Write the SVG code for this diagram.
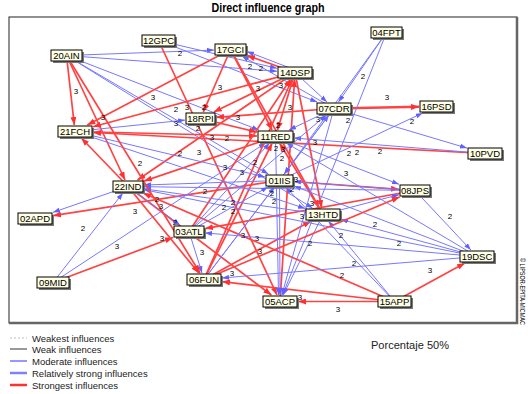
<svg xmlns="http://www.w3.org/2000/svg" width="528" height="394" viewBox="0 0 528 394">
<style>
text{font-family:"Liberation Sans",Arial,sans-serif}
.r{stroke:#ff4343;stroke-width:1.7;fill:none;marker-end:url(#ar)}
.b{stroke:#7878ff;stroke-width:1;fill:none;marker-end:url(#ab)}
.sh{fill:#777}
.bx{fill:#ffffe6;stroke:#000;stroke-width:1}
.nt{font-size:9.5px;fill:#000;text-anchor:middle}
.lb{font-size:8px;fill:#000;text-anchor:middle}
.lg{font-size:9.5px;fill:#222}
</style>
<defs>
<marker id="ar" viewBox="0 0 8 6" markerWidth="8" markerHeight="6" refX="8" refY="3" orient="auto" markerUnits="userSpaceOnUse"><path d="M0,0 L8,3 L0,6 z" fill="#ff3030"/></marker>
<marker id="ab" viewBox="0 0 7 5" markerWidth="7" markerHeight="5" refX="7" refY="2.5" orient="auto" markerUnits="userSpaceOnUse"><path d="M0,0 L7,2.5 L0,5 z" fill="#6060ff"/></marker>
</defs>
<rect x="0" y="0" width="528" height="394" fill="#fff"/>
<text x="268" y="12" font-size="12" font-weight="bold" text-anchor="middle" textLength="113" lengthAdjust="spacingAndGlyphs" fill="#000">Direct influence graph</text>
<rect x="9" y="17" width="508" height="306" fill="#fff" stroke="#222" stroke-width="1"/>
<path d="M517,17 V323 H9" fill="none" stroke="#666" stroke-width="2.5"/>
<text transform="translate(520,258) rotate(90)" font-size="6.5" textLength="67" lengthAdjust="spacingAndGlyphs" fill="#000">© LIPSOR-EPITA-MICMAC</text>
<g id="connectors">
<line class="b" x1="66.5" y1="55.5" x2="214" y2="50.1"/>
<line class="b" x1="66.5" y1="55.5" x2="277" y2="71.2"/>
<line class="r" x1="66.5" y1="55.5" x2="74.3" y2="125"/>
<line class="r" x1="66.5" y1="55.5" x2="125" y2="180"/>
<line class="b" x1="66.5" y1="55.5" x2="258.8" y2="130"/>
<line class="b" x1="66.5" y1="55.5" x2="268.4" y2="174"/>
<line class="b" x1="66.5" y1="55.5" x2="312.5" y2="208"/>
<line class="b" x1="158.5" y1="40.5" x2="277" y2="68.3"/>
<line class="b" x1="158.5" y1="40.5" x2="317.2" y2="102"/>
<line class="r" x1="158.5" y1="40.5" x2="277" y2="295"/>
<line class="r" x1="295" y1="72.5" x2="247" y2="55.4"/>
<line class="b" x1="290" y1="68" x2="247" y2="51.5"/>
<line class="b" x1="334" y1="108.5" x2="241.9" y2="56"/>
<line class="r" x1="230.5" y1="49.5" x2="87.3" y2="125"/>
<line class="r" x1="230.5" y1="49.5" x2="203.3" y2="112"/>
<line class="r" x1="230.5" y1="49.5" x2="272.1" y2="130"/>
<line class="r" x1="230.5" y1="49.5" x2="319.4" y2="208"/>
<line class="r" x1="295" y1="72.5" x2="93" y2="126.7"/>
<line class="r" x1="295" y1="72.5" x2="213.8" y2="112"/>
<line class="r" x1="334" y1="108.5" x2="216" y2="117.3"/>
<line class="r" x1="200.5" y1="118.5" x2="257" y2="132.1"/>
<line class="r" x1="75" y1="131.5" x2="257" y2="136"/>
<line class="r" x1="485" y1="153.5" x2="93" y2="132.5"/>
<line class="r" x1="275.5" y1="136.5" x2="144" y2="181.1"/>
<line class="r" x1="295" y1="72.5" x2="137.5" y2="180"/>
<line class="r" x1="128" y1="186.5" x2="81.3" y2="138"/>
<line class="r" x1="334" y1="108.5" x2="419" y2="106.8" style="stroke-width:2.6"/>
<line class="b" x1="386.5" y1="32.5" x2="338.5" y2="102"/>
<line class="b" x1="386.5" y1="32.5" x2="284.2" y2="174"/>
<line class="b" x1="386.5" y1="32.5" x2="282.6" y2="295"/>
<line class="b" x1="334" y1="108.5" x2="467" y2="148.1"/>
<line class="b" x1="279.5" y1="180.5" x2="422.7" y2="113"/>
<line class="b" x1="485" y1="153.5" x2="294" y2="138"/>
<line class="b" x1="275.5" y1="136.5" x2="399" y2="184.3"/>
<line class="r" x1="279.5" y1="180.5" x2="399" y2="189.3"/>
<line class="r" x1="415" y1="190.5" x2="205" y2="228.6"/>
<line class="r" x1="279.5" y1="180.5" x2="53" y2="215.7"/>
<line class="b" x1="128" y1="186.5" x2="53" y2="212.3"/>
<line class="b" x1="53" y1="282.5" x2="122.9" y2="193"/>
<line class="b" x1="53" y1="282.5" x2="265.6" y2="143"/>
<line class="r" x1="53" y1="282.5" x2="173" y2="237.5"/>
<line class="r" x1="128" y1="186.5" x2="198.7" y2="273"/>
<line class="r" x1="128" y1="186.5" x2="271.4" y2="295"/>
<line class="r" x1="394.5" y1="301.5" x2="143" y2="193"/>
<line class="r" x1="394.5" y1="301.5" x2="298" y2="301.5"/>
<line class="r" x1="394.5" y1="301.5" x2="465" y2="263"/>
<line class="r" x1="394.5" y1="301.5" x2="222" y2="281.6"/>
<line class="r" x1="204" y1="279.5" x2="311" y2="221"/>
<line class="r" x1="204" y1="279.5" x2="292.1" y2="79"/>
<line class="r" x1="204" y1="279.5" x2="272.2" y2="143"/>
<line class="r" x1="189" y1="231.5" x2="290.7" y2="79"/>
<line class="r" x1="280" y1="301.5" x2="294.6" y2="79"/>
<line class="r" x1="323" y1="214.5" x2="279.5" y2="143"/>
<line class="r" x1="295" y1="72.5" x2="321.7" y2="208"/>
<line class="b" x1="279.5" y1="180.5" x2="280" y2="295"/>
<line class="b" x1="275.5" y1="136.5" x2="278.5" y2="295"/>
<line class="b" x1="323" y1="214.5" x2="283.2" y2="295"/>
<line class="b" x1="334" y1="108.5" x2="281.8" y2="295"/>
<line class="b" x1="477" y1="256.5" x2="341" y2="219.4"/>
<line class="b" x1="477" y1="256.5" x2="294" y2="186"/>
<line class="b" x1="477" y1="256.5" x2="144" y2="189.7"/>
<line class="b" x1="477" y1="256.5" x2="222" y2="278"/>
<line class="b" x1="477" y1="256.5" x2="286.4" y2="143"/>
<line class="b" x1="415" y1="190.5" x2="470.9" y2="250"/>
<line class="b" x1="394.5" y1="301.5" x2="328.3" y2="221"/>
<line class="b" x1="394.5" y1="301.5" x2="285.7" y2="187"/>
<line class="b" x1="415" y1="190.5" x2="144" y2="186.7"/>
<line class="b" x1="279.5" y1="180.5" x2="144" y2="185"/>
<line class="b" x1="323" y1="214.5" x2="144" y2="188.8"/>
<line class="b" x1="189" y1="231.5" x2="269.6" y2="143"/>
<line class="b" x1="189" y1="231.5" x2="326.3" y2="115"/>
<line class="b" x1="204" y1="279.5" x2="329" y2="115"/>
<line class="b" x1="204" y1="279.5" x2="274.5" y2="187"/>
<line class="b" x1="189" y1="231.5" x2="268" y2="187"/>
<line class="b" x1="323" y1="214.5" x2="399" y2="194.7"/>
<line class="b" x1="75" y1="131.5" x2="305" y2="208.5"/>
<line class="b" x1="75" y1="131.5" x2="265" y2="177"/>
<line class="b" x1="75" y1="131.5" x2="185" y2="120.1"/>
<line class="b" x1="295" y1="72.5" x2="327" y2="102"/>
<line class="r" x1="295" y1="72.5" x2="277.5" y2="130"/>
<line class="b" x1="334" y1="108.5" x2="289" y2="130"/>
<line class="b" x1="334" y1="108.5" x2="284.4" y2="174"/>
<line class="b" x1="415" y1="190.5" x2="294" y2="181.6"/>
<line class="b" x1="477" y1="256.5" x2="205" y2="232.9"/>
<line class="b" x1="189" y1="231.5" x2="202" y2="273"/>
<line class="b" x1="128" y1="186.5" x2="180" y2="225"/>
<line class="r" x1="66.5" y1="55.5" x2="200" y2="273"/>
<line class="r" x1="204" y1="279.5" x2="399.6" y2="197"/>
</g>
<g id="labels">
<text class="lb" x="180" y="56">2</text>
<text class="lb" x="76" y="94">3</text>
<text class="lb" x="250" y="69">2</text>
<text class="lb" x="261" y="71">2</text>
<text class="lb" x="153" y="100">3</text>
<text class="lb" x="220" y="90">3</text>
<text class="lb" x="258" y="91">3</text>
<text class="lb" x="281" y="88">3</text>
<text class="lb" x="103" y="120">3</text>
<text class="lb" x="176" y="112">2</text>
<text class="lb" x="187" y="110">3</text>
<text class="lb" x="204" y="110">2</text>
<text class="lb" x="290" y="110">3</text>
<text class="lb" x="238" y="120">3</text>
<text class="lb" x="176" y="126">3</text>
<text class="lb" x="198" y="131">2</text>
<text class="lb" x="212" y="140">3</text>
<text class="lb" x="227" y="141">2</text>
<text class="lb" x="278" y="128">2</text>
<text class="lb" x="315" y="145">3</text>
<text class="lb" x="180" y="156">2</text>
<text class="lb" x="199" y="155">3</text>
<text class="lb" x="276" y="151">2</text>
<text class="lb" x="283" y="152">3</text>
<text class="lb" x="363" y="79">2</text>
<text class="lb" x="387" y="100">3</text>
<text class="lb" x="318" y="122">3</text>
<text class="lb" x="348" y="123">2</text>
<text class="lb" x="412" y="124">2</text>
<text class="lb" x="140" y="166">2</text>
<text class="lb" x="225" y="170">3</text>
<text class="lb" x="242" y="175">3</text>
<text class="lb" x="255" y="165">2</text>
<text class="lb" x="282" y="161">2</text>
<text class="lb" x="296" y="182">3</text>
<text class="lb" x="292" y="192">2</text>
<text class="lb" x="205" y="194">2</text>
<text class="lb" x="157" y="202">2</text>
<text class="lb" x="161" y="209">3</text>
<text class="lb" x="135" y="214">3</text>
<text class="lb" x="224" y="210">2</text>
<text class="lb" x="233" y="205">2</text>
<text class="lb" x="233" y="214">2</text>
<text class="lb" x="272" y="196">2</text>
<text class="lb" x="274" y="204">2</text>
<text class="lb" x="175" y="225">2</text>
<text class="lb" x="83" y="231">2</text>
<text class="lb" x="162" y="241">3</text>
<text class="lb" x="117" y="249">3</text>
<text class="lb" x="243" y="238">3</text>
<text class="lb" x="257" y="241">3</text>
<text class="lb" x="202" y="255">3</text>
<text class="lb" x="260" y="254">3</text>
<text class="lb" x="232" y="276">3</text>
<text class="lb" x="349" y="156">2</text>
<text class="lb" x="357" y="155">2</text>
<text class="lb" x="380" y="154">2</text>
<text class="lb" x="346" y="176">3</text>
<text class="lb" x="312" y="206">3</text>
<text class="lb" x="302" y="219">3</text>
<text class="lb" x="450" y="219">2</text>
<text class="lb" x="375" y="227">2</text>
<text class="lb" x="341" y="238">2</text>
<text class="lb" x="310" y="246">2</text>
<text class="lb" x="399" y="246">2</text>
<text class="lb" x="354" y="266">2</text>
<text class="lb" x="342" y="278">2</text>
<text class="lb" x="430" y="273">3</text>
<text class="lb" x="300" y="300">3</text>
<text class="lb" x="338" y="312">3</text>
</g>
<g id="n20AIN"><rect class="sh" x="53" y="52" width="31" height="11"/><rect class="bx" x="51" y="50" width="31" height="11"/><text class="nt" x="66.5" y="59">20AIN</text></g>
<g id="n12GPC"><rect class="sh" x="144" y="37" width="33" height="11"/><rect class="bx" x="142" y="35" width="33" height="11"/><text class="nt" x="158.5" y="44">12GPC</text></g>
<g id="n17GCI"><rect class="sh" x="217" y="46" width="31" height="11"/><rect class="bx" x="215" y="44" width="31" height="11"/><text class="nt" x="230.5" y="53">17GCI</text></g>
<g id="n04FPT"><rect class="sh" x="373" y="29" width="31" height="11"/><rect class="bx" x="371" y="27" width="31" height="11"/><text class="nt" x="386.5" y="36">04FPT</text></g>
<g id="n14DSP"><rect class="sh" x="280" y="69" width="34" height="11"/><rect class="bx" x="278" y="67" width="34" height="11"/><text class="nt" x="295" y="76">14DSP</text></g>
<g id="n07CDR"><rect class="sh" x="319" y="105" width="34" height="11"/><rect class="bx" x="317" y="103" width="34" height="11"/><text class="nt" x="334" y="112">07CDR</text></g>
<g id="n16PSD"><rect class="sh" x="422" y="103" width="33" height="11"/><rect class="bx" x="420" y="101" width="33" height="11"/><text class="nt" x="436.5" y="110">16PSD</text></g>
<g id="n18RPI"><rect class="sh" x="188" y="115" width="29" height="11"/><rect class="bx" x="186" y="113" width="29" height="11"/><text class="nt" x="200.5" y="122">18RPI</text></g>
<g id="n21FCH"><rect class="sh" x="60" y="128" width="34" height="11"/><rect class="bx" x="58" y="126" width="34" height="11"/><text class="nt" x="75" y="135">21FCH</text></g>
<g id="n11RED"><rect class="sh" x="260" y="133" width="35" height="11"/><rect class="bx" x="258" y="131" width="35" height="11"/><text class="nt" x="275.5" y="140">11RED</text></g>
<g id="n10PVD"><rect class="sh" x="470" y="150" width="34" height="11"/><rect class="bx" x="468" y="148" width="34" height="11"/><text class="nt" x="485" y="157">10PVD</text></g>
<g id="n22IND"><rect class="sh" x="115" y="183" width="30" height="11"/><rect class="bx" x="113" y="181" width="30" height="11"/><text class="nt" x="128" y="190">22IND</text></g>
<g id="n01IIS"><rect class="sh" x="268" y="177" width="27" height="11"/><rect class="bx" x="266" y="175" width="27" height="11"/><text class="nt" x="279.5" y="184">01IIS</text></g>
<g id="n08JPS"><rect class="sh" x="402" y="187" width="30" height="11"/><rect class="bx" x="400" y="185" width="30" height="11"/><text class="nt" x="415" y="194">08JPS</text></g>
<g id="n02APD"><rect class="sh" x="20" y="215" width="34" height="11"/><rect class="bx" x="18" y="213" width="34" height="11"/><text class="nt" x="35" y="222">02APD</text></g>
<g id="n13HTD"><rect class="sh" x="308" y="211" width="34" height="11"/><rect class="bx" x="306" y="209" width="34" height="11"/><text class="nt" x="323" y="218">13HTD</text></g>
<g id="n03ATL"><rect class="sh" x="176" y="228" width="30" height="11"/><rect class="bx" x="174" y="226" width="30" height="11"/><text class="nt" x="189" y="235">03ATL</text></g>
<g id="n19DSC"><rect class="sh" x="462" y="253" width="34" height="11"/><rect class="bx" x="460" y="251" width="34" height="11"/><text class="nt" x="477" y="260">19DSC</text></g>
<g id="n09MID"><rect class="sh" x="39" y="279" width="32" height="11"/><rect class="bx" x="37" y="277" width="32" height="11"/><text class="nt" x="53" y="286">09MID</text></g>
<g id="n06FUN"><rect class="sh" x="189" y="276" width="34" height="11"/><rect class="bx" x="187" y="274" width="34" height="11"/><text class="nt" x="204" y="283">06FUN</text></g>
<g id="n05ACP"><rect class="sh" x="265" y="298" width="34" height="11"/><rect class="bx" x="263" y="296" width="34" height="11"/><text class="nt" x="280" y="305">05ACP</text></g>
<g id="n15APP"><rect class="sh" x="380" y="298" width="33" height="11"/><rect class="bx" x="378" y="296" width="33" height="11"/><text class="nt" x="394.5" y="305">15APP</text></g>
<g id="legend">
<line x1="10" y1="338" x2="27" y2="338" stroke="#bbb" stroke-width="1" stroke-dasharray="2,2"/>
<line x1="10" y1="349" x2="27" y2="349" stroke="#333" stroke-width="1"/>
<line x1="10" y1="361" x2="27" y2="361" stroke="#3030ff" stroke-width="1"/>
<line x1="10" y1="373" x2="27" y2="373" stroke="#8080ff" stroke-width="2.5"/>
<line x1="10" y1="385" x2="27" y2="385" stroke="#ff3030" stroke-width="2.5"/>
<text class="lg" x="32" y="341.5">Weakest influences</text>
<text class="lg" x="32" y="352.5">Weak influences</text>
<text class="lg" x="32" y="364.5">Moderate influences</text>
<text class="lg" x="32" y="376.5">Relatively strong influences</text>
<text class="lg" x="32" y="388.5">Strongest influences</text>
</g>
<text x="371" y="349" font-family="'Open Sans','Noto Sans',sans-serif" font-size="11" fill="#222" textLength="78" lengthAdjust="spacingAndGlyphs">Porcentaje 50%</text>
</svg>
